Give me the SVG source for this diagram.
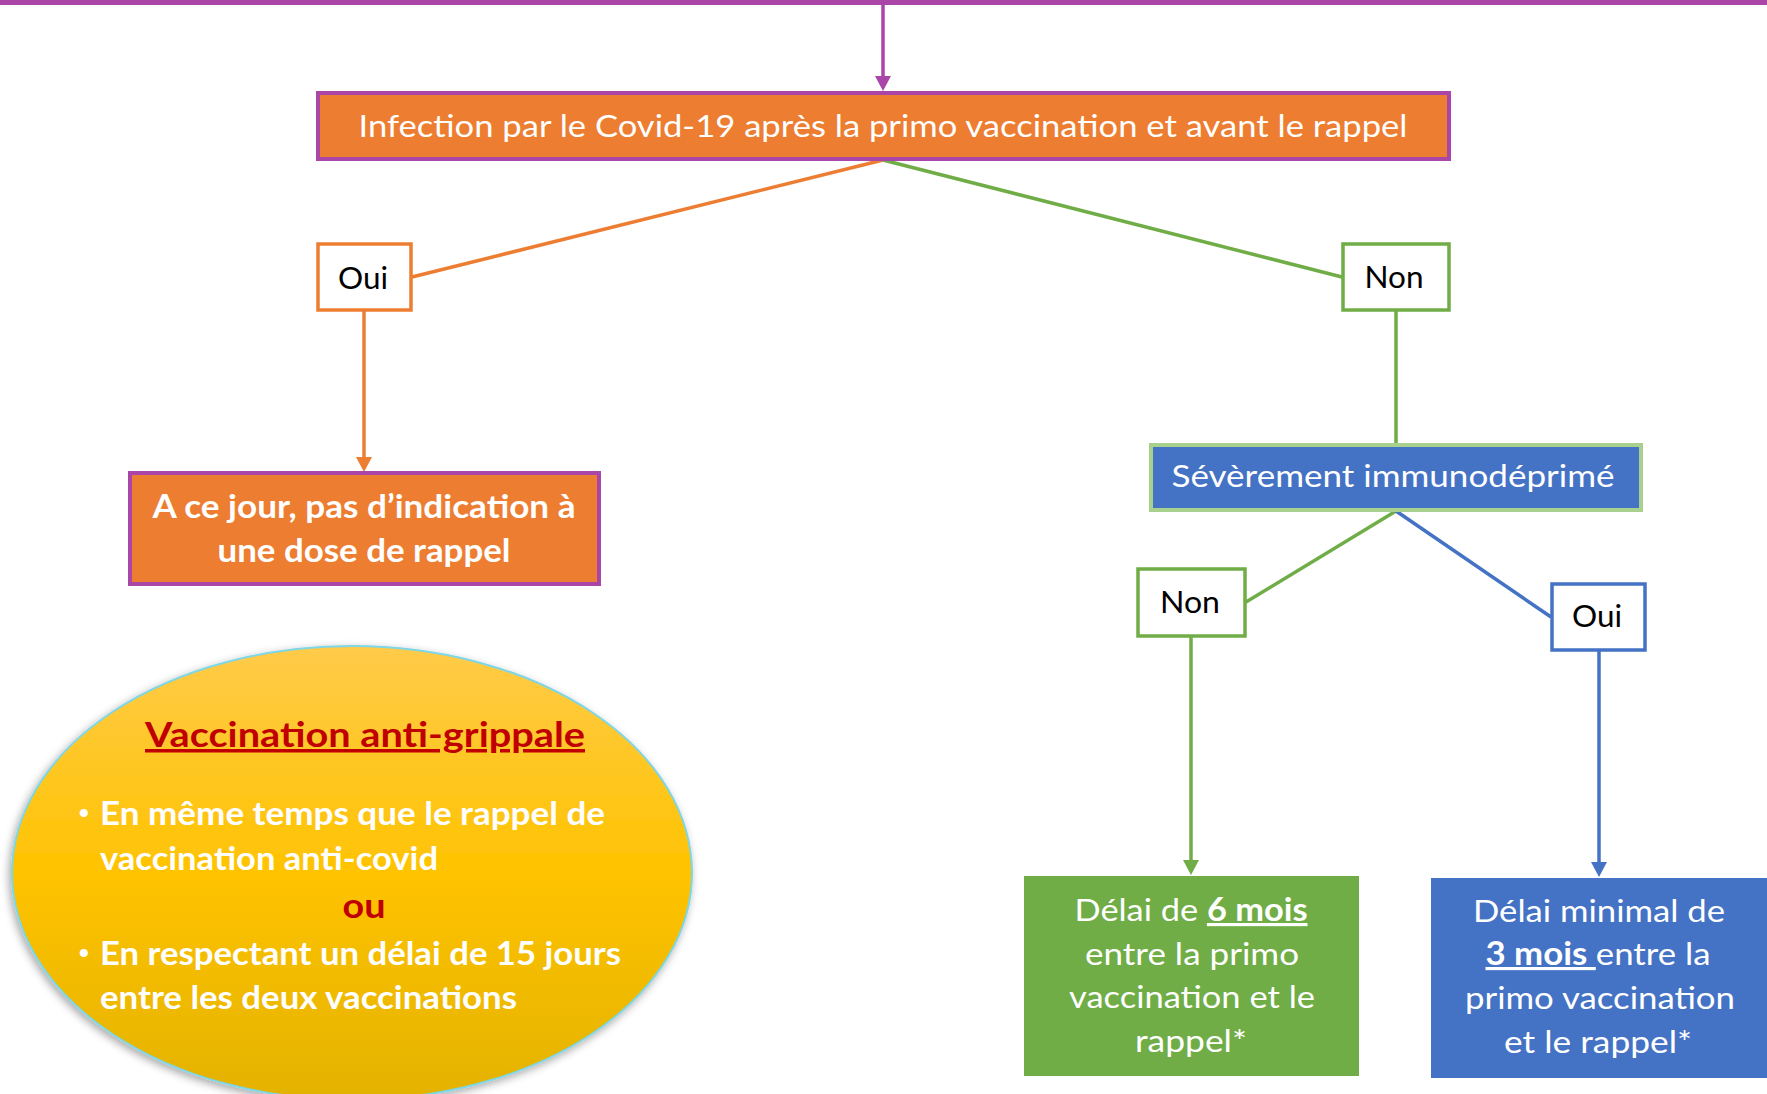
<svg xmlns="http://www.w3.org/2000/svg" width="1767" height="1094" viewBox="0 0 1767 1094">
<style>
text{font-family:Lato,"Open Sans","Liberation Sans",sans-serif;text-anchor:middle}
.w{fill:#fff}
.k{fill:#000}
.b{font-weight:bold}
.t30{font-size:31.5px}
.t32{font-size:33px}
.lab{fill:#fff;stroke-width:3.5}
.ln{fill:none;stroke-width:3.5}
.u{text-decoration:underline}
</style>
<defs>
<marker id="aP" markerUnits="userSpaceOnUse" markerWidth="16" markerHeight="18" refX="0" refY="8" orient="auto"><path d="M0,0 L15,8 L0,16 z" fill="#AA46A7"/></marker>
<marker id="aO" markerUnits="userSpaceOnUse" markerWidth="16" markerHeight="18" refX="0" refY="8" orient="auto"><path d="M0,0 L15,8 L0,16 z" fill="#ED7D31"/></marker>
<marker id="aG" markerUnits="userSpaceOnUse" markerWidth="16" markerHeight="18" refX="0" refY="8" orient="auto"><path d="M0,0 L15,8 L0,16 z" fill="#70AD47"/></marker>
<marker id="aB" markerUnits="userSpaceOnUse" markerWidth="16" markerHeight="18" refX="0" refY="8" orient="auto"><path d="M0,0 L15,8 L0,16 z" fill="#4472C4"/></marker>
<linearGradient id="gold" x1="0" y1="0" x2="0" y2="1">
<stop offset="0" stop-color="#FFCB4A"/>
<stop offset="0.5" stop-color="#FFC300"/>
<stop offset="1" stop-color="#E3B200"/>
</linearGradient>
<filter id="sh" x="-10%" y="-10%" width="120%" height="120%">
<feDropShadow dx="-2" dy="3" stdDeviation="4" flood-color="#000" flood-opacity="0.35"/>
</filter>
</defs>

<rect x="0" y="0" width="1767" height="5" fill="#AA46A7"/>

<g id="connectors">
<line class="ln" x1="883" y1="5" x2="883" y2="76" stroke="#AA46A7" stroke-width="3" marker-end="url(#aP)"/>
<line class="ln" x1="883" y1="160" x2="412" y2="277" stroke="#ED7D31"/>
<line class="ln" x1="883" y1="160" x2="1342" y2="277" stroke="#70AD47"/>
<line class="ln" x1="364" y1="311" x2="364" y2="457" stroke="#ED7D31" marker-end="url(#aO)"/>
<line class="ln" x1="1396" y1="311" x2="1396" y2="443" stroke="#70AD47"/>
<line class="ln" x1="1396" y1="511" x2="1246" y2="602" stroke="#70AD47"/>
<line class="ln" x1="1396" y1="511" x2="1551" y2="617" stroke="#4472C4"/>
<line class="ln" x1="1191" y1="637" x2="1191" y2="860" stroke="#70AD47" marker-end="url(#aG)"/>
<line class="ln" x1="1599" y1="651" x2="1599" y2="862" stroke="#4472C4" marker-end="url(#aB)"/>
</g>

<g id="infection">
<rect x="318" y="93" width="1131" height="66" fill="#ED7D31" stroke="#AA46A7" stroke-width="4"/>
<text class="w t30" x="883" y="137" textLength="1049" lengthAdjust="spacingAndGlyphs">Infection par le Covid-19 après la primo vaccination et avant le rappel</text>
</g>

<g id="oui1">
<rect class="lab" x="318" y="244" width="93" height="66" stroke="#ED7D31"/>
<text class="k t30" x="363" y="289" textLength="50" lengthAdjust="spacingAndGlyphs">Oui</text>
</g>

<g id="non1">
<rect class="lab" x="1343" y="244" width="106" height="66" stroke="#70AD47"/>
<text class="k t30" x="1394" y="288" textLength="59" lengthAdjust="spacingAndGlyphs">Non</text>
</g>

<g id="pas-rappel">
<rect x="130" y="473" width="469" height="111" fill="#ED7D31" stroke="#AA46A7" stroke-width="4"/>
<text class="w b t32" x="364" y="518" textLength="423" lengthAdjust="spacingAndGlyphs">A ce jour, pas d’indication à</text>
<text class="w b t32" x="364" y="562" textLength="293" lengthAdjust="spacingAndGlyphs">une dose de rappel</text>
</g>

<g id="immuno">
<rect x="1151" y="445" width="490" height="65" fill="#4472C4" stroke="#A9D18E" stroke-width="4"/>
<text class="w t30" x="1393" y="487" textLength="443" lengthAdjust="spacingAndGlyphs">Sévèrement immunodéprimé</text>
</g>

<g id="non2">
<rect class="lab" x="1138" y="569" width="107" height="67" stroke="#70AD47"/>
<text class="k t30" x="1190" y="613" textLength="60" lengthAdjust="spacingAndGlyphs">Non</text>
</g>

<g id="oui2">
<rect class="lab" x="1552" y="584" width="93" height="66" stroke="#4472C4"/>
<text class="k t30" x="1597" y="627" textLength="50" lengthAdjust="spacingAndGlyphs">Oui</text>
</g>

<g id="delai6">
<rect x="1024" y="876" width="335" height="200" fill="#70AD47"/>
<text class="w t30" x="1191" y="921" textLength="233" lengthAdjust="spacingAndGlyphs">Délai de <tspan class="b u">6 mois</tspan></text>
<text class="w t30" x="1192" y="965" textLength="214" lengthAdjust="spacingAndGlyphs">entre la primo</text>
<text class="w t30" x="1192" y="1008" textLength="246" lengthAdjust="spacingAndGlyphs">vaccination et le</text>
<text class="w t30" x="1191" y="1052" textLength="112" lengthAdjust="spacingAndGlyphs">rappel*</text>
</g>

<g id="delai3">
<rect x="1431" y="878" width="336" height="200" fill="#4472C4"/>
<text class="w t30" x="1599" y="922" textLength="252" lengthAdjust="spacingAndGlyphs">Délai minimal de</text>
<text class="w t30" x="1598" y="965" textLength="225" lengthAdjust="spacingAndGlyphs" xml:space="preserve"><tspan class="b u">3 mois </tspan>entre la</text>
<text class="w t30" x="1600" y="1009" textLength="270" lengthAdjust="spacingAndGlyphs">primo vaccination</text>
<text class="w t30" x="1598" y="1053" textLength="188" lengthAdjust="spacingAndGlyphs">et le rappel*</text>
</g>

<g id="grippe">
<ellipse cx="352" cy="873" rx="340" ry="227" fill="url(#gold)" stroke="#7FD6E5" stroke-width="2" filter="url(#sh)"/>
<text class="b u" x="365" y="747" font-size="35" fill="#C00000" textLength="440" lengthAdjust="spacingAndGlyphs">Vaccination anti-grippale</text>
<text class="w" x="84" y="820" font-size="22">•</text>
<text class="w b" x="100" y="825" font-size="31.5" style="text-anchor:start" textLength="505" lengthAdjust="spacingAndGlyphs">En même temps que le rappel de</text>
<text class="w b" x="100" y="870" font-size="31.5" style="text-anchor:start" textLength="338" lengthAdjust="spacingAndGlyphs">vaccination anti-covid</text>
<text class="b" x="364" y="918" font-size="35" fill="#C00000" textLength="43" lengthAdjust="spacingAndGlyphs">ou</text>
<text class="w" x="84" y="960" font-size="22">•</text>
<text class="w b" x="100" y="965" font-size="31.5" style="text-anchor:start" textLength="521" lengthAdjust="spacingAndGlyphs">En respectant un délai de 15 jours</text>
<text class="w b" x="100" y="1009" font-size="31.5" style="text-anchor:start" textLength="417" lengthAdjust="spacingAndGlyphs">entre les deux vaccinations</text>
</g>
</svg>
